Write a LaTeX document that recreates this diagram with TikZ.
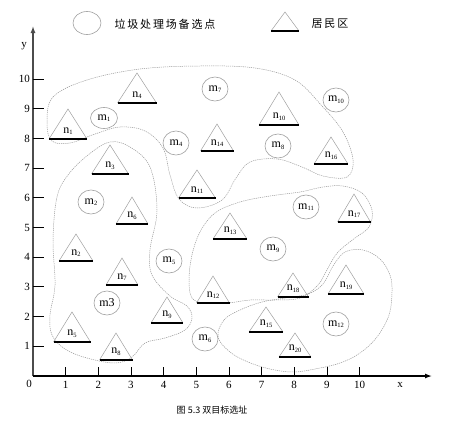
\documentclass[tikz,border=0pt]{standalone}
\usepackage{fontspec}
\setmainfont{Liberation Serif}
\newfontfamily\cjk{Noto Sans CJK SC}
\usetikzlibrary{shapes.geometric,arrows.meta}
\newcommand{\nlab}[2]{#1\raisebox{-0.3ex}{\fontsize{6.5}{7}\selectfont #2}}
\newcommand{\restri}[6]{%
  \coordinate (#1-a) at (#2,#3);
  \coordinate (#1-l) at ({#2-#4},{#3+#5});
  \coordinate (#1-r) at ({#2+#4},{#3+#5});
  \draw[trisides] (#1-l) -- (#1-a) -- (#1-r);
  \draw[tribase] (#1-l) -- (#1-r);
  \node[tlab] (#1) at ({#2},{#3+#5-8}) {#6};
}
\begin{document}
\begin{tikzpicture}[x=1pt,y=-1pt,
  trisides/.style={draw=gray!75, line width=0.5pt},
  tribase/.style={draw=black, line width=1.6pt},
  tlab/.style={inner sep=0pt, font=\fontsize{12}{12}\selectfont},
  site/.style={draw=gray!75, line width=0.6pt, ellipse, minimum width=26pt, minimum height=24pt, inner sep=0pt, font=\fontsize{12}{12}\selectfont},
  zone/.style={draw=gray!80, line width=0.5pt, dash pattern=on 1.2pt off 0.9pt},
  axis/.style={line width=1.3pt, -{Latex[length=7pt,width=5pt]}},
  tick/.style={line width=0.9pt},
  ticklab/.style={inner sep=0pt, font=\fontsize{11}{11}\selectfont},
  legtext/.style={inner sep=0pt, font=\cjk\fontsize{11}{11}\selectfont},
  captext/.style={inner sep=0pt, font=\cjk\fontsize{9}{9}\selectfont}]
\useasboundingbox (0,0) rectangle (450,424);

% legend
\node[site, minimum width=28pt, minimum height=23pt] (legc) at (87,23) {};
\node[legtext] (legct) at (165,24) {垃\,圾\,处\,理\,场\,备\,选\,点};
\restri{legt}{285}{12}{14}{19}{}
\node[legtext] (legtt) at (330,24) {居\,民\,区};

% zones
\draw[zone] plot[smooth cycle, tension=0.6] coordinates {(47,123) (53,97) (87,80) (140,69) (200,66) (255,68) (295,80) (322,106) (343,132) (353,160) (347,177) (323,176) (302,167) (277,159) (250,162) (236,178) (222,200) (197,208) (179,199) (170,175) (163,148) (145,131) (120,127) (95,134) (70,143) (52,141)};
\draw[zone] plot[smooth cycle, tension=0.6] coordinates {(110,142) (130,147) (150,167) (157,210) (150,250) (152,275) (170,296) (187,306) (192,318) (185,330) (165,338) (145,343) (132,357) (115,363) (87,358) (65,349) (52,335) (50,315) (55,285) (53,240) (57,197) (68,175) (88,155)};
\draw[zone] plot[smooth cycle, tension=0.6] coordinates {(240,202) (270,196) (300,192) (323,187) (343,186) (362,193) (372,210) (369,227) (355,238) (338,252) (328,268) (318,285) (300,298) (275,300) (250,300) (228,303) (205,303) (192,298) (189,280) (192,255) (200,232) (215,213)};
\draw[zone] plot[smooth cycle, tension=0.6] coordinates {(218,337) (224,320) (240,310) (262,302) (285,298) (308,294) (323,284) (333,266) (345,252) (363,250) (380,259) (390,275) (392,292) (389,315) (377,337) (360,353) (340,363) (315,369) (293,372) (270,369) (248,362) (230,352)};

% axes
\coordinate (O) at (33,376);
\coordinate (Ytop) at (33,26);
\coordinate (Xend) at (432,376);
\draw[axis, draw=gray!60!black] (O) -- (Ytop);
\draw[axis] (O) -- (Xend);
\node[ticklab] (ylab) at (24,46) {y};
\node[ticklab] (xlab) at (400,385) {x};
\node[ticklab] (x0) at (29,384) {0};
\foreach \v in {1,...,10} {
  \draw[tick] (33,{376-29.7*\v}) -- (44,{376-29.7*\v});
  \node[ticklab, anchor=east] (yl\v) at (30,{376-29.7*\v}) {\v};
  \draw[tick, line width=0.6pt] ({33+32.65*\v},376) -- ({33+32.65*\v},367);
  \node[ticklab] (xl\v) at ({33+32.65*\v},385) {\v};
}

% residential areas
\restri{n1}{68}{109}{19}{30}{\nlab{n}{1}}
\restri{n4}{137}{73}{19.5}{30}{\nlab{n}{4}}
\restri{n3}{110}{145}{18.5}{29}{\nlab{n}{3}}
\restri{n14}{217}{124}{16.5}{27}{\nlab{n}{14}}
\restri{n10}{279}{92}{20}{33}{\nlab{n}{10}}
\restri{n16}{331}{137}{17}{27}{\nlab{n}{16}}
\restri{n11}{197}{170}{18.5}{28}{\nlab{n}{11}}
\restri{n13}{230}{213}{17}{26}{\nlab{n}{13}}
\restri{n17}{354}{194}{16.5}{28}{\nlab{n}{17}}
\restri{n6}{132}{197}{16}{27}{\nlab{n}{6}}
\restri{n2}{76}{234}{17}{27}{\nlab{n}{2}}
\restri{n7}{122}{258}{16}{27}{\nlab{n}{7}}
\restri{n5}{72}{312}{18.5}{30}{\nlab{n}{5}}
\restri{n8}{116}{333}{16.5}{27}{\nlab{n}{8}}
\restri{n9}{167}{297}{16}{26}{\nlab{n}{9}}
\restri{n12}{213}{276}{16.5}{27}{\nlab{n}{12}}
\restri{n18}{293}{273}{15.5}{24}{\nlab{n}{18}}
\restri{n15}{266}{307}{17}{25}{\nlab{n}{15}}
\restri{n19}{346}{265}{18}{29}{\nlab{n}{19}}
\restri{n20}{295}{333}{16}{24}{\nlab{n}{20}}

% candidate sites
\node[site, minimum height=21pt, minimum width=27pt] (m1) at (104,118) {\nlab{m}{1}};
\node[site] (m7) at (215,89) {\nlab{m}{7}};
\node[site] (m4) at (176,143) {\nlab{m}{4}};
\node[site] (m8) at (278,146) {\nlab{m}{8}};
\node[site] (m10) at (336,100) {\nlab{m}{10}};
\node[site] (m2) at (91,202) {\nlab{m}{2}};
\node[site] (m11) at (306,207) {\nlab{m}{11}};
\node[site] (m9) at (273,249) {\nlab{m}{9}};
\node[site] (m5) at (169,261) {\nlab{m}{5}};
\node[site] (m3) at (107,303) {m3};
\node[site] (m6) at (205,339) {\nlab{m}{6}};
\node[site] (m12) at (336,324) {\nlab{m}{12}};

% caption
\node[captext] (cap) at (212,410) {图 5.3 双目标选址};
\end{tikzpicture}
\end{document}
